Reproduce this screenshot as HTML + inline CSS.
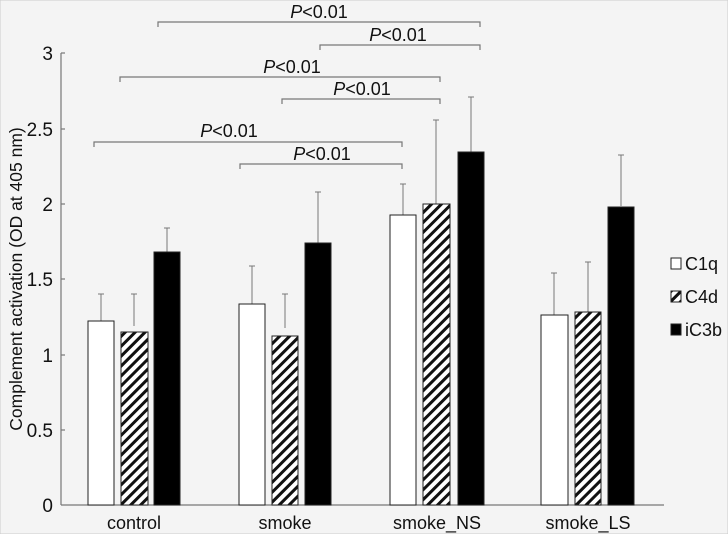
<!DOCTYPE html>
<html><head><style>body{margin:0;background:#fff}svg{display:block}</style></head><body>
<svg width="728" height="534" viewBox="0 0 728 534" xmlns="http://www.w3.org/2000/svg" font-family="Liberation Sans, sans-serif">
<defs><pattern id="h" patternUnits="userSpaceOnUse" width="7" height="7" patternTransform="rotate(45)"><rect width="7" height="7" fill="#fff"/><rect width="3" height="7" fill="#111"/></pattern></defs>
<rect x="0" y="0" width="728" height="534" fill="#f4f4f4" stroke="#ccc"/>
<g stroke="#777" stroke-width="1.2" fill="none">
<line x1="61" y1="53" x2="61" y2="505"/><line x1="61" y1="505" x2="664" y2="505"/>
<line x1="61" y1="53" x2="65" y2="53"/><line x1="61" y1="129" x2="65" y2="129"/><line x1="61" y1="204" x2="65" y2="204"/><line x1="61" y1="279" x2="65" y2="279"/><line x1="61" y1="355" x2="65" y2="355"/><line x1="61" y1="430" x2="65" y2="430"/>
<path d="M158 27V22H480V27"/><path d="M320 50V45H480V50"/><path d="M120 82V77H440V82"/><path d="M282 104V99H440V104"/><path d="M94 147V142H402V147"/><path d="M240 169V164H402V169"/>
</g>
<g font-size="19" fill="#111" text-anchor="end">
<text x="53" y="60">3</text><text x="53" y="136">2.5</text><text x="53" y="211">2</text><text x="53" y="286">1.5</text><text x="53" y="362">1</text><text x="53" y="437">0.5</text><text x="53" y="512">0</text>
</g>
<text transform="translate(22,279) rotate(-90)" font-size="17.5" text-anchor="middle" fill="#111">Complement activation (OD at 405 nm)</text>
<g font-size="18" fill="#111" text-anchor="middle">
<text x="134" y="529">control</text><text x="285" y="529">smoke</text><text x="437" y="529">smoke_NS</text><text x="588" y="529">smoke_LS</text>
</g>
<g font-size="18" fill="#111" text-anchor="middle">
<text x="319" y="18"><tspan font-style="italic">P</tspan>&lt;0.01</text>
<text x="398" y="41"><tspan font-style="italic">P</tspan>&lt;0.01</text>
<text x="292" y="73"><tspan font-style="italic">P</tspan>&lt;0.01</text>
<text x="362" y="95"><tspan font-style="italic">P</tspan>&lt;0.01</text>
<text x="229" y="137"><tspan font-style="italic">P</tspan>&lt;0.01</text>
<text x="322" y="160"><tspan font-style="italic">P</tspan>&lt;0.01</text>
</g>
<g stroke="#777" stroke-width="1">
<path d="M101 321V294M98 294H104M134 326V294M131 294H137M167 252V228M164 228H170"/>
<path d="M252 304V266M249 266H255M285 328V294M282 294H288M318 243V192M315 192H321"/>
<path d="M403 215V184M400 184H406M436 204V120M433 120H439M471 152V97M468 97H474"/>
<path d="M554 315V273M551 273H557M588 312V262M585 262H591M621 206V155M618 155H624"/>
</g>
<g stroke="#222" stroke-width="1">
<rect x="88" y="321" width="26" height="184" fill="#fff"/><rect x="121" y="332" width="27" height="173" fill="url(#h)"/><rect x="154" y="252" width="26" height="253" fill="#000"/>
<rect x="239" y="304" width="26" height="201" fill="#fff"/><rect x="272" y="336" width="26" height="169" fill="url(#h)"/><rect x="305" y="243" width="26" height="262" fill="#000"/>
<rect x="390" y="215" width="26" height="290" fill="#fff"/><rect x="423" y="204" width="27" height="301" fill="url(#h)"/><rect x="458" y="152" width="26" height="353" fill="#000"/>
<rect x="541" y="315" width="27" height="190" fill="#fff"/><rect x="575" y="312" width="26" height="193" fill="url(#h)"/><rect x="608" y="207" width="26" height="298" fill="#000"/>
<rect x="671" y="258" width="10" height="11" fill="#fff"/><rect x="671" y="291" width="10" height="11" fill="url(#h)"/><rect x="671" y="324" width="10" height="11" fill="#000"/>
</g>
<g font-size="18" fill="#111">
<text x="685" y="270">C1q</text><text x="685" y="303">C4d</text><text x="685" y="336">iC3b</text>
</g>
</svg>
</body></html>
